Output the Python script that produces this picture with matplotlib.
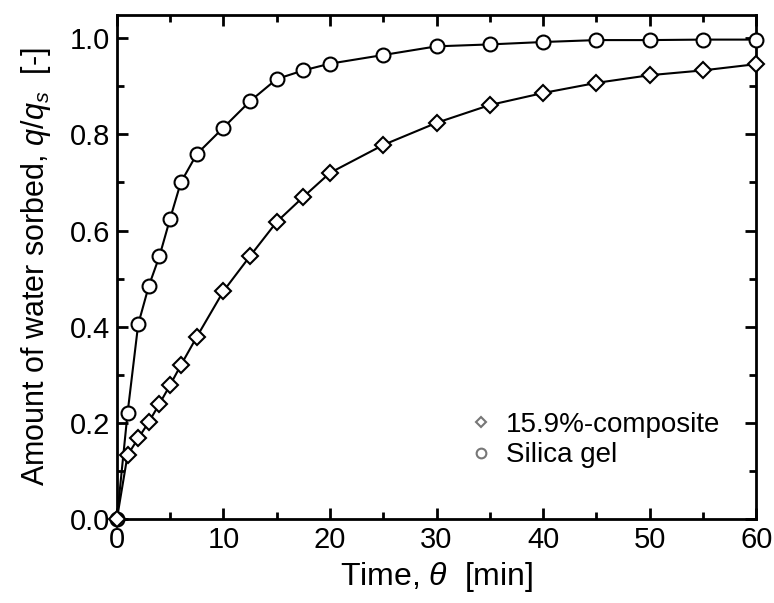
import numpy as np
import matplotlib
matplotlib.use("Agg")
import matplotlib.pyplot as plt
from matplotlib.ticker import MultipleLocator

plt.rcParams['font.family'] = ['Liberation Sans', 'DejaVu Sans']
plt.rcParams['mathtext.fontset'] = 'custom'
plt.rcParams['mathtext.rm'] = 'Liberation Sans'
plt.rcParams['mathtext.it'] = 'Liberation Sans:italic'

# silica gel
silica_t = [0, 1, 2, 3, 4, 5, 6, 7.5, 10, 12.5, 15, 17.5, 20, 25, 30, 35, 40, 45, 50, 55, 60]
silica_q = [0.0, 0.22, 0.405, 0.485, 0.547, 0.625, 0.70, 0.759, 0.814, 0.869, 0.915, 0.933,
            0.947, 0.965, 0.983, 0.987, 0.992, 0.996, 0.996, 0.997, 0.997]

# 15.9%-composite
comp_t = [0, 1, 2, 3, 4, 5, 6, 7.5, 10, 12.5, 15, 17.5, 20, 25, 30, 35, 40, 45, 50, 55, 60]
comp_q = [0.0, 0.133, 0.168, 0.202, 0.24, 0.279, 0.32, 0.379, 0.474, 0.547, 0.618, 0.670,
          0.72, 0.778, 0.824, 0.861, 0.886, 0.907, 0.923, 0.933, 0.946]

fig = plt.figure(figsize=(7.74, 6.03), dpi=100)
ax = fig.add_axes([0.151, 0.139, 0.826, 0.836])

ax.plot(silica_t, silica_q, '-', color='black', lw=1.5, marker='o', ms=10,
        mfc='white', mec='black', mew=1.5, clip_on=False, zorder=3)
ax.plot(comp_t, comp_q, '-', color='black', lw=1.5, marker='D', ms=8,
        mfc='white', mec='black', mew=1.5, clip_on=False, zorder=4)

ax.set_xlim(0, 60)
ax.set_ylim(0, 1.048)
ax.xaxis.set_major_locator(MultipleLocator(10))
ax.xaxis.set_minor_locator(MultipleLocator(5))
ax.yaxis.set_major_locator(MultipleLocator(0.2))
ax.yaxis.set_minor_locator(MultipleLocator(0.1))
ax.yaxis.set_major_formatter(matplotlib.ticker.FormatStrFormatter('%.1f'))
ax.tick_params(which='both', direction='in', top=True, right=True, width=2,
               labelsize=21, pad=5)
ax.tick_params(which='major', length=8)
ax.tick_params(which='minor', length=5)
for s in ax.spines.values():
    s.set_linewidth(2)

ax.set_xlabel(r'Time, $\theta$  [min]', fontsize=23, labelpad=4)
ax.set_ylabel(r'Amount of water sorbed, $q/q_s$  [-]', fontsize=22, labelpad=12)

# legend uses small grey markers, no lines
h1, = ax.plot([], [], ls='none', marker='D', ms=5, mfc='white', mec='#777777', mew=1.5)
h2, = ax.plot([], [], ls='none', marker='o', ms=7, mfc='white', mec='#777777', mew=1.5)
ax.legend([h1, h2], ['15.9%-composite', 'Silica gel'], loc='upper left',
          bbox_to_anchor=(0.535, 0.24), frameon=False, fontsize=20,
          handlelength=0.6, handletextpad=0.6, labelspacing=0.15, borderpad=0)

plt.savefig("out.png", dpi=100)
